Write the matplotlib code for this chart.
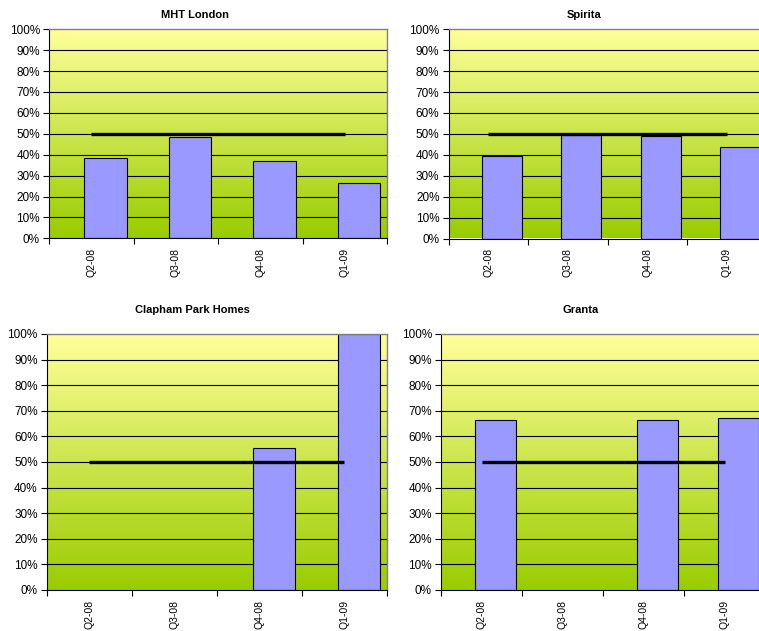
import numpy as np
import matplotlib
matplotlib.use("Agg")
import matplotlib.pyplot as plt
from matplotlib.colors import LinearSegmentedColormap
from matplotlib.ticker import FixedLocator, PercentFormatter, NullFormatter

plt.rcParams["font.family"] = ["Liberation Sans", "DejaVu Sans"]

quarters = ["Q2-08", "Q3-08", "Q4-08", "Q1-09"]
target = 0.5

mht_london = [0.383, 0.483, 0.372, 0.266]
spirita = [0.394, 0.494, 0.490, 0.435]
clapham_park = [np.nan, np.nan, 0.553, 1.0]
granta = [0.664, np.nan, 0.664, 0.671]

# name, values, axes box in pixels (left, top, right, bottom), title centre (x, y)
panels = [
    ("MHT London", mht_london, (49, 29.3, 387, 238.3), (195, 15)),
    ("Spirita", spirita, (448.5, 29.3, 766.5, 238.5), (584, 15)),
    ("Clapham Park Homes", clapham_park, (46.7, 334, 387, 590), (192.5, 310)),
    ("Granta", granta, (441, 334, 765, 590), (581, 310)),
]

W, H = 759, 631
fig = plt.figure(figsize=(W / 100, H / 100), dpi=100)
bg = LinearSegmentedColormap.from_list("bg", ["#99cc00", "#ffff99"])


def draw_panel(name, values, box, title_xy):
    l, t, r, b = box
    ax = fig.add_axes([l / W, 1 - b / H, (r - l) / W, (b - t) / H])
    x = np.arange(len(quarters))

    # gradient fill of the plot area
    grad = np.linspace(0, 1, 256).reshape(-1, 1)
    ax.imshow(grad, cmap=bg, origin="lower", aspect="auto",
              extent=(-0.5, len(quarters) - 0.5, 0, 1), zorder=0)

    for yv in np.arange(0.1, 1.0, 0.1):
        ax.axhline(yv, color="black", lw=0.8, zorder=1)

    vals = np.array(values, dtype=float)
    ok = ~np.isnan(vals)
    ax.bar(x[ok] + 0.17, vals[ok], width=0.5, color="#9999ff",
           edgecolor="black", linewidth=0.8, zorder=2)
    ax.plot([x[0], x[-1]], [target, target], color="black", lw=2.4,
            solid_capstyle="butt", zorder=3)

    ax.set_xlim(-0.5, len(quarters) - 0.5)
    ax.set_ylim(0, 1)
    ax.set_yticks(np.arange(0, 1.01, 0.1))
    ax.yaxis.set_major_formatter(PercentFormatter(1.0, decimals=0))
    ax.xaxis.set_major_locator(FixedLocator(np.arange(-0.5, len(quarters), 1)))
    ax.xaxis.set_major_formatter(NullFormatter())
    ax.xaxis.set_minor_locator(FixedLocator(x))
    ax.set_xticklabels(quarters, minor=True, rotation=90)
    ax.tick_params(axis="x", which="major", length=4, width=0.8, direction="out")
    ax.tick_params(axis="x", which="minor", length=0, pad=7, labelsize=7.5)
    ax.tick_params(axis="y", length=4, width=0.8, pad=2.5, labelsize=8.5)

    for side in ("left", "bottom"):
        ax.spines[side].set_color("black")
        ax.spines[side].set_linewidth(0.8)
    for side in ("top", "right"):
        ax.spines[side].set_color("#808080")
        ax.spines[side].set_linewidth(1.0)

    fig.text(title_xy[0] / W, 1 - title_xy[1] / H, name, ha="center",
             va="center", fontsize=8, fontweight="bold")


for name, values, box, title_xy in panels:
    draw_panel(name, values, box, title_xy)

fig.savefig("out.png", dpi=100)
